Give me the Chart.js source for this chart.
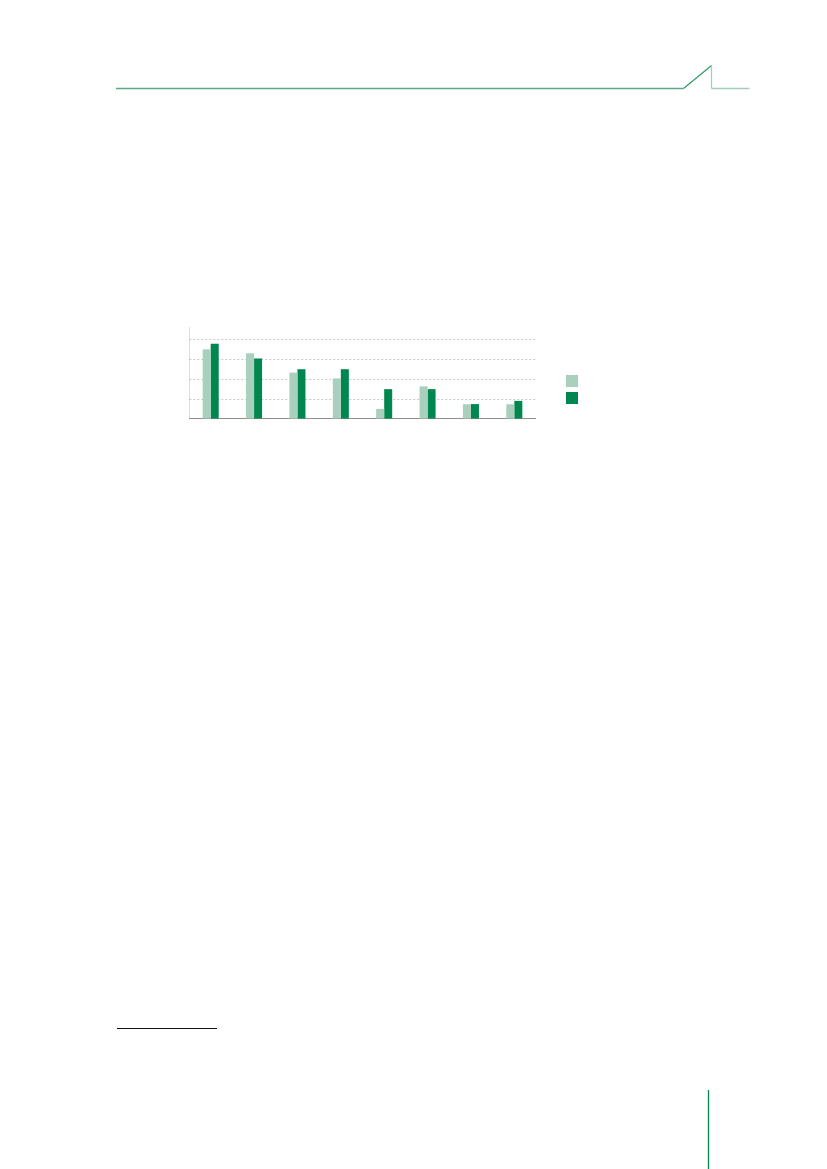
<!DOCTYPE html>
<html>
<head>
<meta charset="utf-8">
<script src="https://cdn.jsdelivr.net/npm/chart.js@4/dist/chart.umd.min.js"></script>
<style>
  html, body { margin: 0; padding: 0; background: #fff; }
  body { width: 827px; height: 1169px; position: relative; overflow: hidden; font-family: "Liberation Sans", Arial, sans-serif; }
  #deco { position: absolute; left: 0; top: 0; }
  #wrap { position: absolute; left: 189px; top: 327px; width: 347px; height: 92px; }
  .lg { position: absolute; width: 12px; height: 12px; }
</style>
</head>
<body>
<svg id="deco" width="827" height="1169">
  <line x1="116" y1="88.5" x2="683.5" y2="88.5" stroke="#5aab85" stroke-width="1.3"/>
  <line x1="683.5" y1="88.5" x2="711.5" y2="65.5" stroke="#2e9a68" stroke-width="1.2"/>
  <line x1="711.5" y1="65.5" x2="711.5" y2="88.5" stroke="#a5cfbb" stroke-width="1.3"/>
  <line x1="711.5" y1="88.5" x2="749.5" y2="88.5" stroke="#a5cfbb" stroke-width="1.3"/>
  <line x1="117" y1="1028.5" x2="217" y2="1028.5" stroke="#111" stroke-width="1"/>
  <line x1="708.5" y1="1090" x2="708.5" y2="1169" stroke="#00894f" stroke-width="1.3"/>
</svg>
<div id="wrap"><canvas id="c"></canvas></div>
<div class="lg" style="left:566px;top:375px;background:#a8d0bd;"></div>
<div class="lg" style="left:566px;top:391.5px;background:#00874f;"></div>
<script>
const categories = ['1', '2', '3', '4', '5', '6', '7', '8'];
const seriesNames = ['Series A', 'Series B'];
const seriesA = [35, 33, 23.3, 20.4, 5.1, 16.4, 7.4, 7.4];
const seriesB = [37.8, 30.4, 25, 25, 15, 15, 7.5, 9.1];
const yTicks = [0, 10, 20, 30, 40];
const yMax = 46.2;

new Chart(document.getElementById('c'), {
  type: 'bar',
  data: {
    labels: categories,
    datasets: [
      { label: seriesNames[0], data: seriesA, backgroundColor: '#a8d0bd', borderWidth: 0 },
      { label: seriesNames[1], data: seriesB, backgroundColor: '#00874f', borderWidth: 0 }
    ]
  },
  options: {
    responsive: true,
    maintainAspectRatio: false,
    animation: false,
    layout: { padding: 0 },
    plugins: { legend: { display: false }, tooltip: { enabled: false } },
    datasets: { bar: { categoryPercentage: 0.37, barPercentage: 1 } },
    scales: {
      x: {
        grid: { display: false, drawTicks: false },
        ticks: { display: false },
        border: { display: true, color: '#8e8e8e', width: 1.3 }
      },
      y: {
        min: 0,
        max: yMax,
        afterBuildTicks: (axis) => { axis.ticks = yTicks.map(v => ({ value: v })); },
        ticks: { display: false },
        grid: {
          drawTicks: false,
          color: (ctx) => (ctx.tick && ctx.tick.value > 0) ? '#c8c8c8' : 'rgba(0,0,0,0)',
          lineWidth: 1
        },
        border: { display: true, color: '#8e8e8e', width: 1.3, dash: [2, 2] }
      }
    }
  }
});
</script>
</body>
</html>
